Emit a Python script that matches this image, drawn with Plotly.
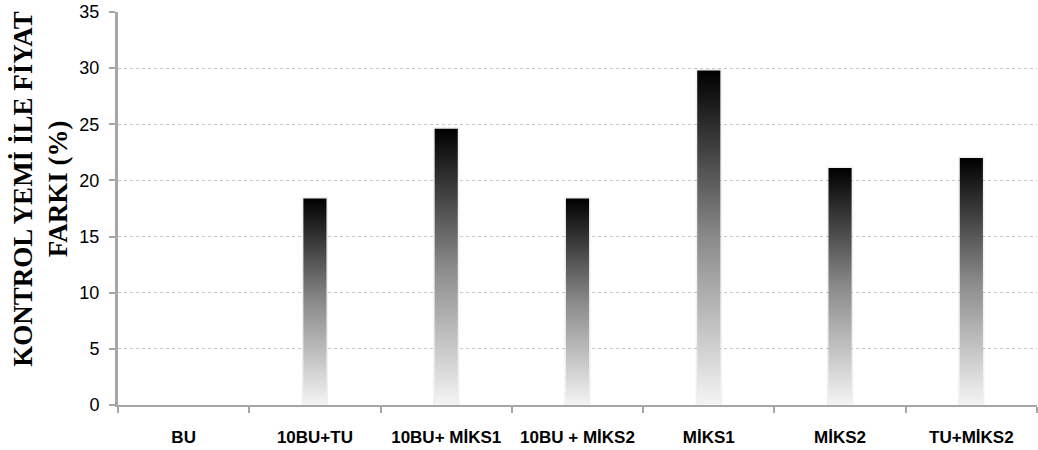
import plotly.graph_objects as go

categories = ["BU", "10BU+TU", "10BU+ MİKS1", "10BU + MİKS2", "MİKS1", "MİKS2", "TU+MİKS2"]
values = [0, 18.4, 24.6, 18.4, 29.8, 21.1, 22.0]
y_ticks = [0, 5, 10, 15, 20, 25, 30, 35]

HALF = 0.088  # half bar width in category units

fig = go.Figure()
for i, (cat, v) in enumerate(zip(categories, values)):
    if v <= 0:
        continue
    # faint shadow
    s = HALF + 0.012
    fig.add_trace(go.Scatter(
        x=[i - s, i - s, i + s, i + s, i - s], y=[0, v + 0.15, v + 0.15, 0, 0],
        mode="lines", fill="toself", fillcolor="rgba(0,0,0,0.06)",
        line=dict(width=0), hoverinfo="skip", showlegend=False))
    fig.add_trace(go.Scatter(
        x=[i - HALF, i - HALF, i + HALF, i + HALF, i - HALF], y=[0, v, v, 0, 0],
        mode="lines", fill="toself",
        fillgradient=dict(type="vertical",
                          colorscale=[[0, "#f4f4f4"], [0.5, "#8a8a8a"], [1, "#000000"]]),
        line=dict(width=0), name=cat, showlegend=False))

fig.update_layout(
    width=1038, height=450,
    margin=dict(l=118, r=1, t=12, b=45),
    paper_bgcolor="white", plot_bgcolor="white",
    showlegend=False,
    xaxis=dict(
        range=[-0.5, 6.5],
        tickmode="array", tickvals=list(range(len(categories))), ticktext=categories,
        ticks="", showgrid=False, zeroline=False,
        showline=True, linecolor="#a6a6a6", linewidth=2,
        tickfont=dict(family="Liberation Sans Narrow, Arial Narrow, Arial", size=17, color="black", weight="bold"),
        ticklabelstandoff=16,
        minor=dict(tickvals=[k - 0.5 for k in range(len(categories) + 1)], ticks="outside",
                   ticklen=6, tickcolor="#a6a6a6", tickwidth=2, showgrid=False),
        fixedrange=True,
    ),
    yaxis=dict(
        range=[0, 35], tickvals=y_ticks,
        showgrid=True, gridcolor="#c6c6c6", griddash="dot", gridwidth=1,
        zeroline=False, showline=True, linecolor="#a6a6a6", linewidth=3,
        ticks="outside", ticklen=6, tickcolor="#a6a6a6", tickwidth=2,
        tickfont=dict(family="Liberation Sans Narrow, Arial Narrow, Arial", size=18, color="black"),
        ticklabelstandoff=6,
        fixedrange=True,
    ),
    annotations=[dict(
        text="KONTROL YEMİ İLE FİYAT<br>FARKI (%)",
        xref="paper", yref="paper", x=-0.084, y=0.55,
        xanchor="center", yanchor="middle", textangle=-90, showarrow=False,
        font=dict(family="Liberation Serif, Times New Roman, serif", size=27, color="black", weight="bold"),
    )],
)

fig.write_html("out.html")
